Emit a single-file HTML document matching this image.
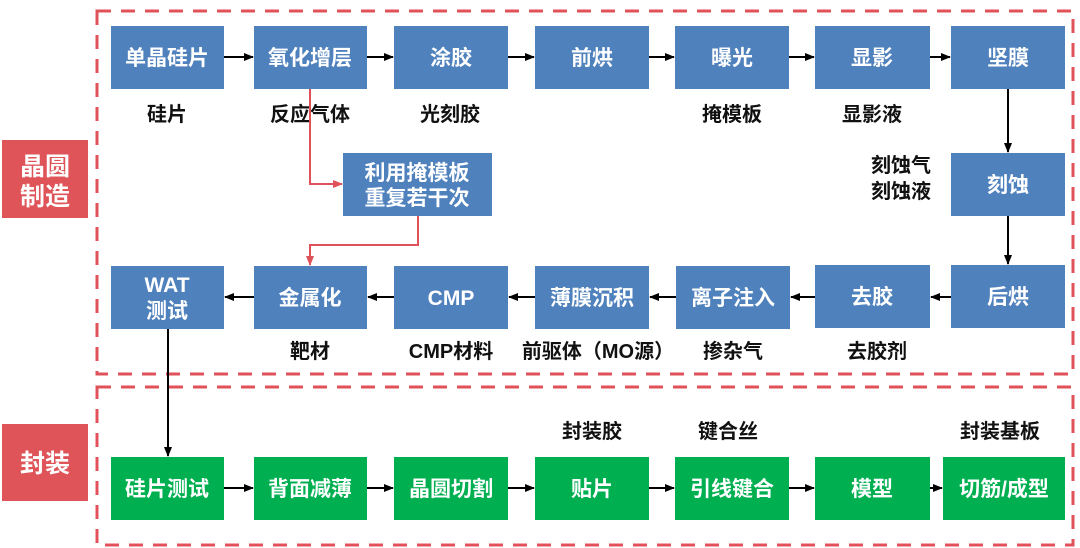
<!DOCTYPE html>
<html><head><meta charset="utf-8"><style>
html,body{margin:0;padding:0;background:#fff;width:1080px;height:548px;overflow:hidden}
svg{display:block}
text{font-family:"Liberation Sans","Noto Sans CJK SC",sans-serif;font-weight:bold}
.w{fill:#fff;font-size:21px}
.k{fill:#111;font-size:20px}
</style></head><body>
<svg width="1080" height="548" viewBox="0 0 1080 548">
<defs>
<marker id="a" markerWidth="10" markerHeight="10" refX="9" refY="5" orient="auto" markerUnits="userSpaceOnUse"><path d="M0,1 L10,5 L0,9 z" fill="#000"/></marker>
<marker id="r" markerWidth="10" markerHeight="10" refX="9" refY="5" orient="auto" markerUnits="userSpaceOnUse"><path d="M0,1 L10,5 L0,9 z" fill="#E0525A"/></marker>
</defs>
<rect x="97" y="11" width="976" height="363" fill="none" stroke="#E0525A" stroke-width="3" stroke-dasharray="14 10"/>
<rect x="97" y="387" width="976" height="158" fill="none" stroke="#E0525A" stroke-width="3" stroke-dasharray="14 10"/>
<rect x="2" y="140" width="86" height="78" fill="#DE5459"/>
<text class="w" x="45" y="175" text-anchor="middle" style="font-size:25px">晶圆</text>
<text class="w" x="45" y="205" text-anchor="middle" style="font-size:25px">制造</text>
<rect x="2" y="424" width="86" height="77" fill="#DE5459"/>
<text class="w" x="45" y="472" text-anchor="middle" style="font-size:25px">封装</text>
<g fill="#4F81BD">
<rect x="111" y="26" width="113" height="63"/><rect x="254" y="26" width="113" height="63"/><rect x="394" y="26" width="114" height="63"/><rect x="535" y="26" width="114" height="63"/><rect x="675" y="26" width="114" height="63"/><rect x="815" y="26" width="115" height="63"/><rect x="951" y="26" width="114" height="63"/>
<rect x="343" y="153" width="149" height="63"/><rect x="951" y="153" width="114" height="63"/>
<rect x="111" y="266" width="113" height="63"/><rect x="254" y="266" width="113" height="63"/><rect x="394" y="266" width="114" height="63"/><rect x="535" y="266" width="114" height="63"/><rect x="676" y="266" width="114" height="63"/><rect x="815" y="265" width="115" height="63"/><rect x="951" y="265" width="114" height="63"/>
</g>
<g fill="#00B050">
<rect x="111" y="457" width="113" height="63"/><rect x="254" y="457" width="113" height="63"/><rect x="394" y="457" width="114" height="63"/><rect x="535" y="457" width="114" height="63"/><rect x="675" y="457" width="114" height="63"/><rect x="815" y="457" width="115" height="63"/><rect x="943" y="457" width="122" height="63"/>
</g>
<g text-anchor="middle">
<text class="w" x="167" y="65">单晶硅片</text><text class="w" x="310" y="65">氧化增层</text><text class="w" x="451" y="65">涂胶</text><text class="w" x="592" y="65">前烘</text><text class="w" x="732" y="65">曝光</text><text class="w" x="872" y="65">显影</text><text class="w" x="1008" y="65">坚膜</text>
<text class="w" x="417" y="180">利用掩模板</text><text class="w" x="417" y="205">重复若干次</text><text class="w" x="1008" y="192">刻蚀</text>
<text class="w" x="167" y="292">WAT</text><text class="w" x="167" y="318">测试</text>
<text class="w" x="310" y="305">金属化</text><text class="w" x="451" y="305">CMP</text><text class="w" x="592" y="305">薄膜沉积</text><text class="w" x="733" y="305">离子注入</text><text class="w" x="872" y="304">去胶</text><text class="w" x="1008" y="304">后烘</text>
<text class="w" x="167" y="496">硅片测试</text><text class="w" x="310" y="496">背面减薄</text><text class="w" x="451" y="496">晶圆切割</text><text class="w" x="592" y="496">贴片</text><text class="w" x="732" y="496">引线键合</text><text class="w" x="872" y="496">模型</text><text class="w" x="1004" y="496">切筋/成型</text>
<text class="k" x="167" y="121">硅片</text><text class="k" x="310" y="121">反应气体</text><text class="k" x="450" y="121">光刻胶</text><text class="k" x="732" y="121">掩模板</text><text class="k" x="872" y="121">显影液</text>
<text class="k" x="901" y="172">刻蚀气</text><text class="k" x="901" y="198">刻蚀液</text>
<text class="k" x="310" y="358">靶材</text><text class="k" x="451" y="358">CMP材料</text><text class="k" x="598" y="358">前驱体（MO源）</text><text class="k" x="733" y="358">掺杂气</text><text class="k" x="877" y="358">去胶剂</text>
<text class="k" x="592" y="438">封装胶</text><text class="k" x="728" y="438">键合丝</text><text class="k" x="1000" y="438">封装基板</text>
</g>
<g stroke="#000" stroke-width="2" fill="none" marker-end="url(#a)">
<line x1="224" y1="57" x2="253" y2="57"/><line x1="367" y1="57" x2="393" y2="57"/><line x1="508" y1="57" x2="534" y2="57"/><line x1="649" y1="57" x2="674" y2="57"/><line x1="789" y1="57" x2="814" y2="57"/><line x1="930" y1="57" x2="950" y2="57"/>
<line x1="1008" y1="89" x2="1008" y2="152"/><line x1="1008" y1="216" x2="1008" y2="264"/>
<line x1="951" y1="297" x2="931" y2="297"/><line x1="815" y1="297" x2="791" y2="297"/><line x1="676" y1="297" x2="650" y2="297"/><line x1="535" y1="297" x2="509" y2="297"/><line x1="394" y1="297" x2="368" y2="297"/><line x1="254" y1="297" x2="225" y2="297"/>
<line x1="168" y1="329" x2="168" y2="456"/>
<line x1="224" y1="488" x2="253" y2="488"/><line x1="367" y1="488" x2="393" y2="488"/><line x1="508" y1="488" x2="534" y2="488"/><line x1="649" y1="488" x2="674" y2="488"/><line x1="789" y1="488" x2="814" y2="488"/><line x1="930" y1="488" x2="942" y2="488"/>
</g>
<g stroke="#E0525A" stroke-width="2" fill="none" marker-end="url(#r)">
<polyline points="310,89 310,184 342,184"/>
<polyline points="418,216 418,245 310,245 310,265"/>
</g>
</svg>
</body></html>
